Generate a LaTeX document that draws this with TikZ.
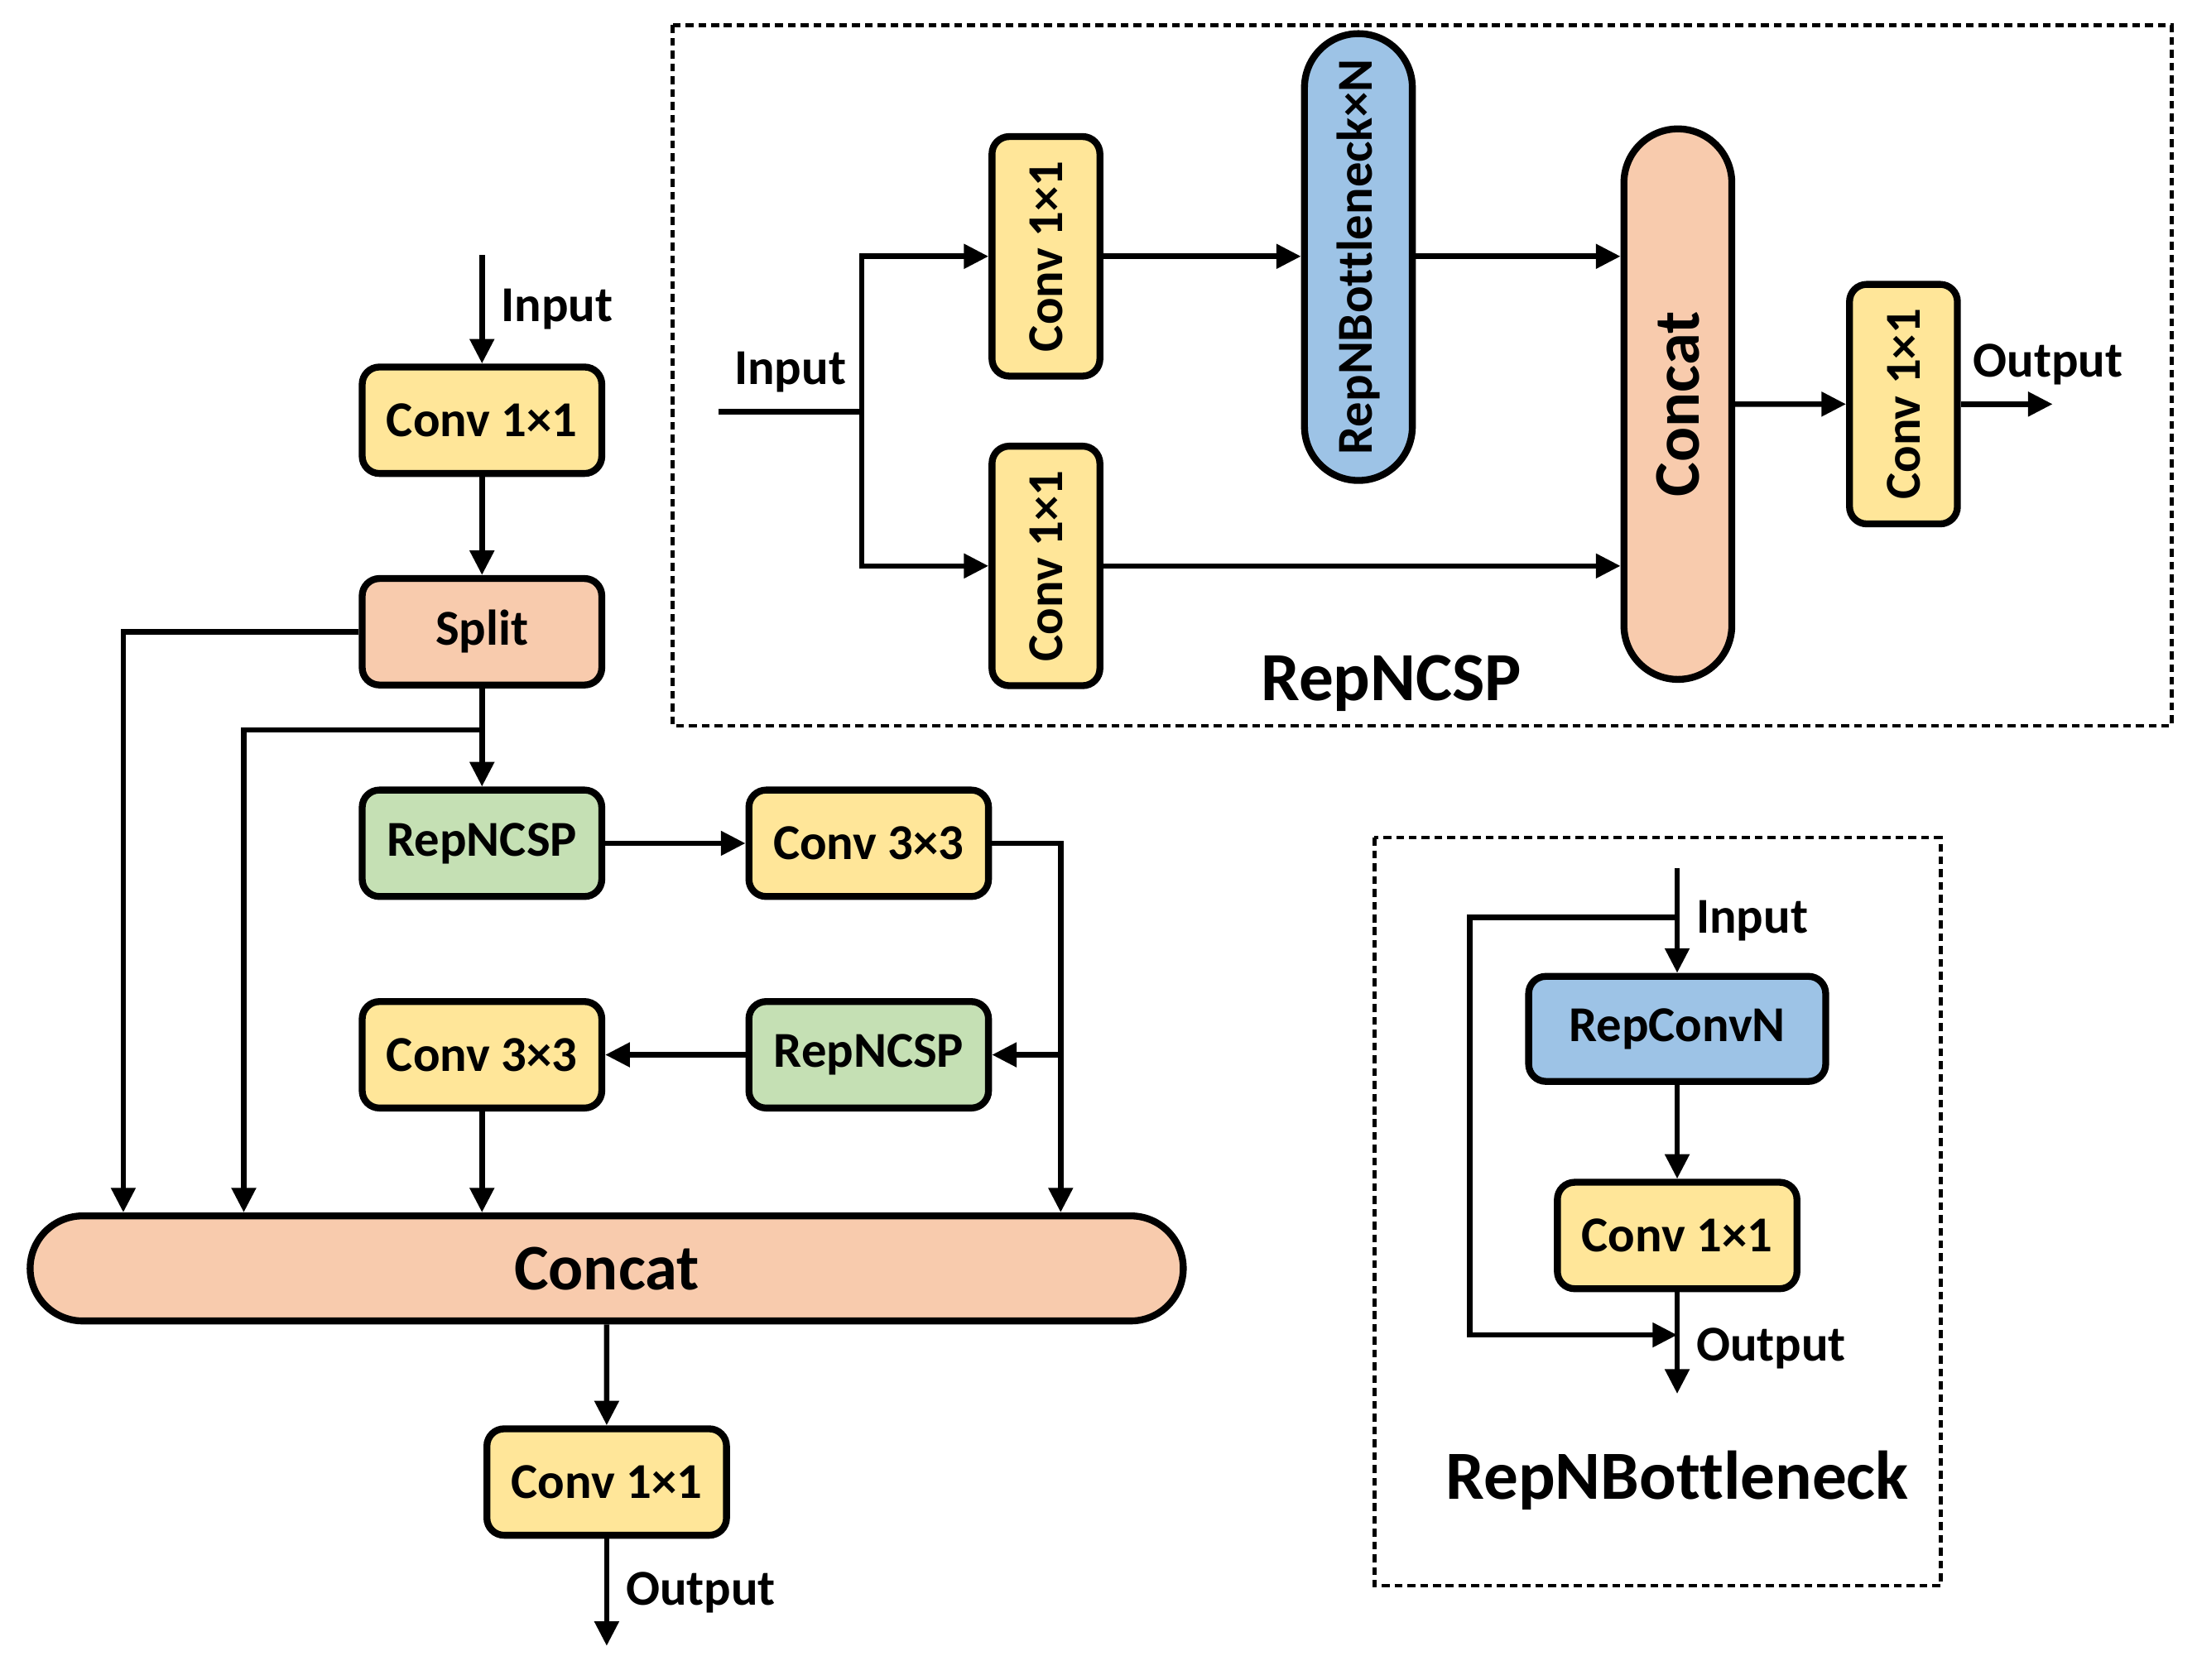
\documentclass[tikz,border=0pt]{standalone}
\usepackage{fontspec}
\setmainfont{Carlito}[Ligatures=NoCommon]
\usetikzlibrary{arrows.meta,shapes.misc}
\definecolor{convyellow}{RGB}{255,230,153}
\definecolor{catsalmon}{RGB}{248,203,173}
\definecolor{cspgreen}{RGB}{197,224,180}
\definecolor{repblue}{RGB}{157,195,230}
\tikzset{
  block/.style={draw,line width=1.4pt,rounded corners=3.5pt,inner sep=0pt,font=\bfseries\fontsize{10.2}{12}\selectfont},
  conv/.style={block,fill=convyellow,minimum width=17.1mm,minimum height=7.6mm},
  splitbox/.style={block,fill=catsalmon,minimum width=17.1mm,minimum height=7.6mm},
  csp/.style={block,fill=cspgreen,minimum width=17.1mm,minimum height=7.6mm},
  repconv/.style={block,fill=repblue,minimum width=21.2mm,minimum height=7.5mm},
  vconv/.style={block,fill=convyellow,rotate=90,minimum width=17.1mm,minimum height=7.7mm},
  pill/.style={draw,line width=1.4pt,rounded rectangle,inner sep=0pt,font=\bfseries\fontsize{10.2}{12}\selectfont},
  concat/.style={pill,fill=catsalmon,minimum width=82.3mm,minimum height=7.5mm,font=\bfseries\fontsize{13.2}{15}\selectfont},
  vcat/.style={pill,fill=catsalmon,rotate=90,minimum width=39.3mm,minimum height=7.7mm,font=\bfseries\fontsize{13.2}{15}\selectfont},
  vbott/.style={pill,fill=repblue,rotate=90,minimum width=31.9mm,minimum height=7.7mm},
  flow/.style={line width=1.1pt,-{Triangle[length=5pt,width=4.8pt]}},
  wire/.style={line width=1.1pt},
  frame/.style={line width=0.75pt,dash pattern=on 1.6pt off 1pt},
  title/.style={font=\bfseries\fontsize{14}{16}\selectfont},
  lbl/.style={font=\bfseries\fontsize{10.2}{12}\selectfont}
}
\begin{document}
\begin{tikzpicture}[x=0.1mm,y=-0.1mm]
  \useasboundingbox (0,0) rectangle (1568,1199);

  \node[conv] (c1) at (344,300) {Conv 1×1};
  \node[splitbox] (split) at (344,451) {Split};
  \node[csp] (csp1) at (344,602) {RepNCSP};
  \node[conv] (c3a) at (620,602) {Conv 3×3};
  \node[csp] (csp2) at (620,753) {RepNCSP};
  \node[conv] (c3b) at (344,753) {Conv 3×3};
  \node[concat] (cat) at (433,905.5) {Concat};
  \node[conv] (c2) at (433,1058) {Conv 1×1};
  \coordinate (in) at (344,182);
  \coordinate (out) at (433,1175);
  \coordinate (tap) at (344,521);
  \coordinate (tap2) at (757,753);
  \coordinate (xa) at (88,0);
  \coordinate (xb) at (174,0);
  \coordinate (xc) at (757,0);

  \draw[flow] (in) -- node[right,lbl] {Input} (c1);
  \draw[flow] (c1) -- (split);
  \draw[flow] (split.west) -| (cat.north -| xa);
  \draw[flow] (split) -- (csp1);
  \draw[flow] (tap) -| (cat.north -| xb);
  \draw[flow] (csp1) -- (c3a);
  \draw[flow] (c3a.east) -| (cat.north -| xc);
  \draw[flow] (tap2) -- (csp2);
  \draw[flow] (csp2) -- (c3b);
  \draw[flow] (c3b) -- (cat.north -| c3b);
  \draw[flow] (cat) -- (c2);
  \draw[flow] (c2) -- node[right,lbl] {Output} (out);

  \draw[frame] (480,18) rectangle (1550,518);
  \node[title] (tcsp) at (993,488) {RepNCSP};
  \node[vconv] (ca) at (746.5,183) {Conv 1×1};
  \node[vconv] (cb) at (746.5,404) {Conv 1×1};
  \node[vbott] (bn) at (969.5,183.5) {RepNBottleneck×N};
  \node[vcat] (cat2) at (1197.5,288.5) {Concat};
  \node[vconv] (cc) at (1358.5,288.5) {Conv 1×1};
  \coordinate (in2) at (513,294);
  \coordinate (fork) at (615,294);
  \coordinate (out2) at (1465,288.5);

  \draw[wire] (in2) -- node[above,lbl] {Input} (fork);
  \draw[flow] (fork) |- (ca);
  \draw[flow] (fork) |- (cb);
  \draw[flow] (ca) -- (ca -| bn.north);
  \draw[flow] (ca -| bn.south) -- (ca -| cat2.north);
  \draw[flow] (cb) -- (cb -| cat2.north);
  \draw[flow] (cat2) -- (cc);
  \draw[flow] (cc) -- node[above,lbl,pos=0.95] {Output} (out2);

  \draw[frame] (981,598) rectangle (1385,1132);
  \node[title] (tbott) at (1197,1057) {RepNBottleneck};
  \node[repconv] (rc) at (1197,734.5) {RepConvN};
  \node[conv] (c4) at (1197,882) {Conv 1×1};
  \coordinate (in3) at (1197,620);
  \coordinate (out3) at (1197,995);
  \coordinate (skip) at (1197,655);
  \coordinate (join) at (1197,953);
  \coordinate (xd) at (1049,0);

  \draw[flow] (in3) -- node[right,lbl] {Input} (rc);
  \draw[flow] (skip) -| (join -| xd) -- (join);
  \draw[flow] (rc) -- (c4);
  \draw[flow] (c4) -- node[right,lbl,pos=0.55] {Output} (out3);
\end{tikzpicture}
\end{document}
